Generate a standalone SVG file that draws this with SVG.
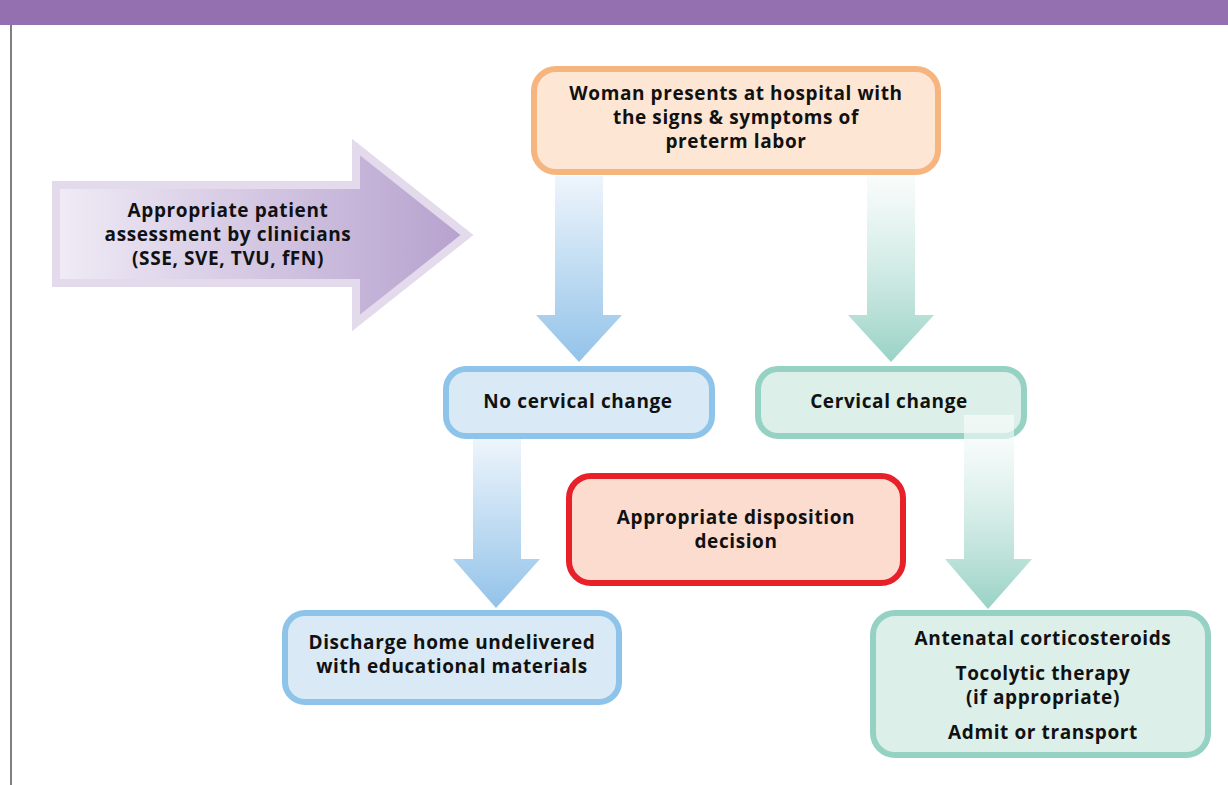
<svg xmlns="http://www.w3.org/2000/svg" width="1228" height="785" viewBox="0 0 1228 785">
<defs>
<linearGradient id="gBlue" x1="0" y1="0" x2="0" y2="1"><stop offset="0" stop-color="#EEF5FC"/><stop offset="1" stop-color="#93C3E9"/></linearGradient>
<linearGradient id="gGreen" x1="0" y1="0" x2="0" y2="1"><stop offset="0" stop-color="#FFFFFF" stop-opacity="0.6"/><stop offset="1" stop-color="#99D2C5"/></linearGradient>
<linearGradient id="gPurple" x1="0" y1="0" x2="1" y2="0"><stop offset="0" stop-color="#F0EBF6"/><stop offset="1" stop-color="#B6A1CE"/></linearGradient>
<style>
.t{font-family:"Open Sans","Liberation Sans",sans-serif;font-weight:bold;font-size:19px;letter-spacing:0.6px;fill:#111;text-anchor:middle;font-variant-ligatures:none}
.box{stroke-width:6}
.blue{fill:#D9EAF6;stroke:#8EC3EA}
.green{fill:#DCEFE8;stroke:#95D2C4}
</style>
</defs>
<rect width="1228" height="785" fill="#fff"/>
<rect x="0" y="0" width="1228" height="25" fill="#9570B0"/>
<line x1="11" y1="25" x2="11" y2="785" stroke="#555" stroke-width="1.5"/>

<g id="assessment">
<polygon points="56,185 356,185 356,147 467,235 356,323 356,283 56,283" fill="url(#gPurple)" stroke="#E3DAEC" stroke-width="8"/>
<text class="t" x="228" y="217">Appropriate patient</text>
<text class="t" x="228" y="241">assessment by clinicians</text>
<text class="t" x="228" y="265">(SSE, SVE, TVU, fFN)</text>
</g>

<g id="connectors">
<polygon points="555,176 603,176 603,315 622,315 579,362 536,315 555,315" fill="url(#gBlue)"/>
<polygon points="867,155 915,155 915,315 934,315 891,362 848,315 867,315" fill="url(#gGreen)"/>
<polygon points="473,438 521,438 521,559 540,559 496,608 453,559 473,559" fill="url(#gBlue)"/>
</g>

<g id="presents">
<rect class="box" x="534" y="69" width="404" height="103" rx="22" fill="#FDE6D3" stroke="#F6B47E"/>
<text class="t" x="736" y="100">Woman presents at hospital with</text>
<text class="t" x="736" y="124">the signs &amp; symptoms of</text>
<text class="t" x="736" y="148">preterm labor</text>
</g>

<g id="no-change">
<rect class="box blue" x="446" y="369" width="266" height="67" rx="20"/>
<text class="t" x="578" y="408">No cervical change</text>
</g>

<g id="change">
<rect class="box green" x="758" y="369" width="266" height="67" rx="20"/>
<text class="t" x="889" y="408">Cervical change</text>
</g>

<g id="connector-cervical">
<polygon points="964,415 1014,415 1014,559 1032,559 988,609 945,559 964,559" fill="url(#gGreen)"/>
</g>

<g id="disposition">
<rect class="box" x="569" y="476" width="334" height="107" rx="22" fill="#FBDCCF" stroke="#E8202A"/>
<text class="t" x="736" y="524">Appropriate disposition</text>
<text class="t" x="736" y="548">decision</text>
</g>

<g id="discharge">
<rect class="box blue" x="285" y="613" width="334" height="89" rx="20"/>
<text class="t" x="452" y="649">Discharge home undelivered</text>
<text class="t" x="452" y="673">with educational materials</text>
</g>

<g id="treatment">
<rect class="box green" x="873" y="613" width="335" height="142" rx="22"/>
<text class="t" x="1043" y="645">Antenatal corticosteroids</text>
<text class="t" x="1043" y="680">Tocolytic therapy</text>
<text class="t" x="1043" y="704">(if appropriate)</text>
<text class="t" x="1043" y="739">Admit or transport</text>
</g>
</svg>
